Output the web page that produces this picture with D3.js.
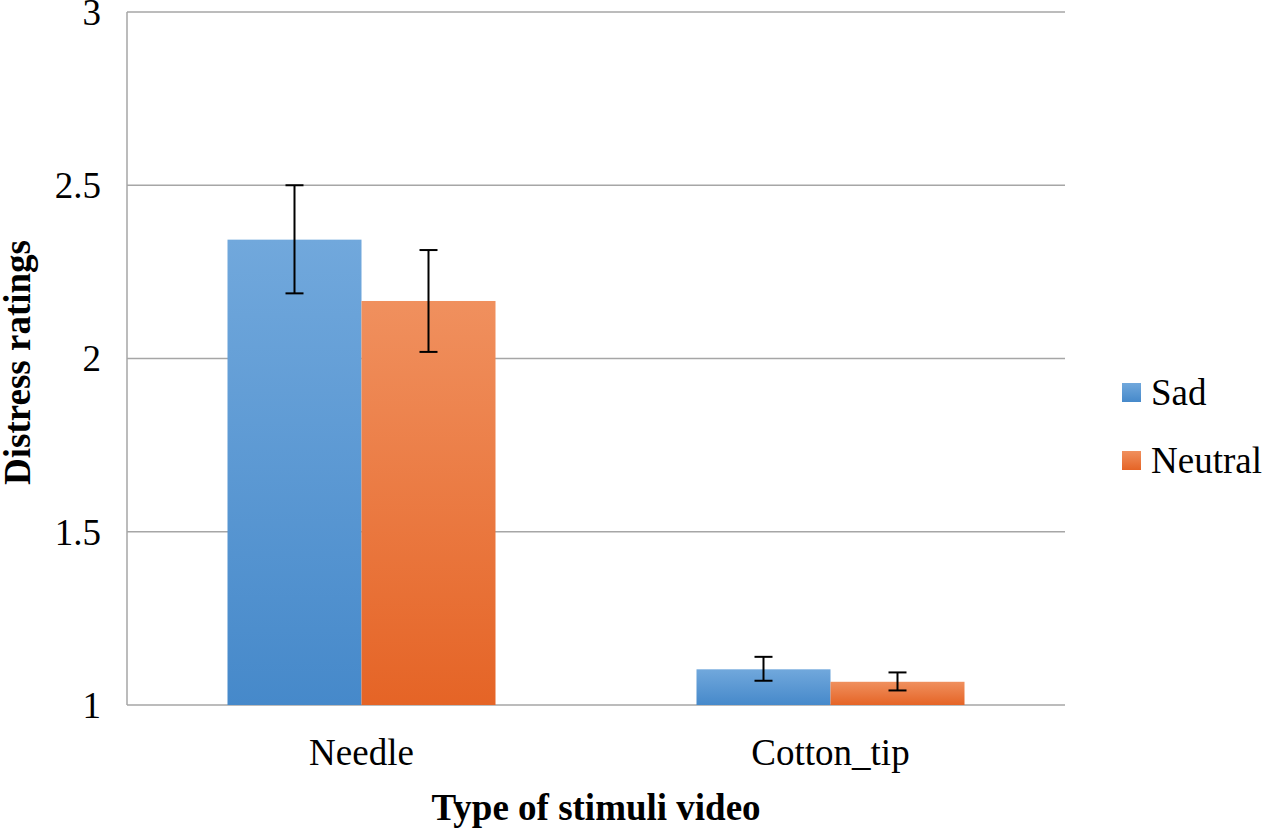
<!DOCTYPE html>
<html>
<head>
<meta charset="utf-8">
<script src="https://cdn.jsdelivr.net/npm/d3@7"></script>
<style>
  body { margin: 0; background: #fff; }
  text { font-family: "Liberation Serif", "Times New Roman", serif; fill: #000; }
</style>
</head>
<body>
<svg id="chart" width="1267" height="830"></svg>
<script>
// data
var categories = ["Needle", "Cotton_tip"];
var series = ["Sad", "Neutral"];
var sadMeans = [2.343, 1.103];
var neutralMeans = [2.166, 1.067];
var sadLow = [2.188, 1.070];
var sadHigh = [2.500, 1.139];
var neutralLow = [2.019, 1.042];
var neutralHigh = [2.313, 1.094];
var yTicks = [1, 1.5, 2, 2.5, 3];

var svg = d3.select("#chart");
// plot area edges (window.top is reserved, so no "top" here)
var plotL = 127, plotR = 1065, plotT = 12, plotB = 705;

var x = d3.scaleBand().domain(categories).range([plotL, plotR]).padding(0);
var xSub = d3.scaleBand().domain(series).range([0, x.bandwidth()]).paddingInner(0).paddingOuter(0.75);
var y = d3.scaleLinear().domain([1, 3]).range([plotB, plotT]);

// gradients, lighter at top
var defs = svg.append("defs");
var grads = { Sad: ["#71a8dc", "#4689ca"], Neutral: ["#f0905e", "#e56426"] };
series.forEach(function(s) {
    var g = defs.append("linearGradient").attr("id", "g" + s)
        .attr("x1", 0).attr("y1", 0).attr("x2", 0).attr("y2", 1);
    g.append("stop").attr("offset", "0%").attr("stop-color", grads[s][0]);
    g.append("stop").attr("offset", "100%").attr("stop-color", grads[s][1]);
});

// gridlines
svg.append("g").selectAll("line").data(yTicks).enter().append("line")
    .attr("x1", plotL).attr("x2", plotR)
    .attr("y1", function(d) { return y(d); }).attr("y2", function(d) { return y(d); })
    .attr("stroke", "#a6a6a6").attr("stroke-width", 1.5);

// left axis line
svg.append("line").attr("x1", plotL).attr("x2", plotL).attr("y1", plotT).attr("y2", plotB)
    .attr("stroke", "#a6a6a6").attr("stroke-width", 1.5);

// y tick labels
svg.append("g").selectAll("text").data(yTicks).enter().append("text")
    .attr("x", 101).attr("y", function(d) { return y(d); })
    .attr("dy", "0.35em").attr("text-anchor", "end")
    .style("font-size", "37px")
    .text(function(d) { return d; });

var rows = [];
categories.forEach(function(c, i) {
    rows.push({ cat: c, s: "Sad", v: sadMeans[i], lo: sadLow[i], hi: sadHigh[i] });
    rows.push({ cat: c, s: "Neutral", v: neutralMeans[i], lo: neutralLow[i], hi: neutralHigh[i] });
});

// bars
svg.append("g").selectAll("rect").data(rows).enter().append("rect")
    .attr("x", function(d) { return x(d.cat) + xSub(d.s); })
    .attr("width", xSub.bandwidth())
    .attr("y", function(d) { return y(d.v); })
    .attr("height", function(d) { return y(1) - y(d.v); })
    .attr("fill", function(d) { return "url(#g" + d.s + ")"; });

// error bars
var eb = svg.append("g").attr("stroke", "#000").attr("stroke-width", 2);
rows.forEach(function(d) {
    var cx = x(d.cat) + xSub(d.s) + xSub.bandwidth() / 2;
    eb.append("line").attr("x1", cx).attr("x2", cx).attr("y1", y(d.hi)).attr("y2", y(d.lo));
    eb.append("line").attr("x1", cx - 9).attr("x2", cx + 9).attr("y1", y(d.hi)).attr("y2", y(d.hi));
    eb.append("line").attr("x1", cx - 9).attr("x2", cx + 9).attr("y1", y(d.lo)).attr("y2", y(d.lo));
});

// x tick labels
svg.append("g").selectAll("text").data(categories).enter().append("text")
    .attr("x", function(d) { return x(d) + x.bandwidth() / 2; })
    .attr("y", 765).attr("text-anchor", "middle")
    .style("font-size", "37px")
    .text(function(d) { return d; });

// axis titles
svg.append("text").attr("x", (plotL + plotR) / 2).attr("y", 820)
    .attr("text-anchor", "middle").style("font-size", "37px").style("font-weight", "bold")
    .text("Type of stimuli video");
svg.append("text").attr("transform", "translate(30," + ((plotT + plotB) / 2 + 4) + ") rotate(-90)")
    .attr("text-anchor", "middle").style("font-size", "37px").style("font-weight", "bold")
    .text("Distress ratings");

// legend
var leg = svg.append("g").selectAll("g").data(series).enter().append("g")
    .attr("transform", function(d, i) { return "translate(1122," + (392 + i * 68) + ")"; });
leg.append("rect").attr("x", 0).attr("y", -9).attr("width", 19).attr("height", 19)
    .attr("fill", function(d) { return "url(#g" + d + ")"; });
leg.append("text").attr("x", 29).attr("y", 0).attr("dy", "0.35em")
    .style("font-size", "37px").text(function(d) { return d; });
</script>
</body>
</html>
